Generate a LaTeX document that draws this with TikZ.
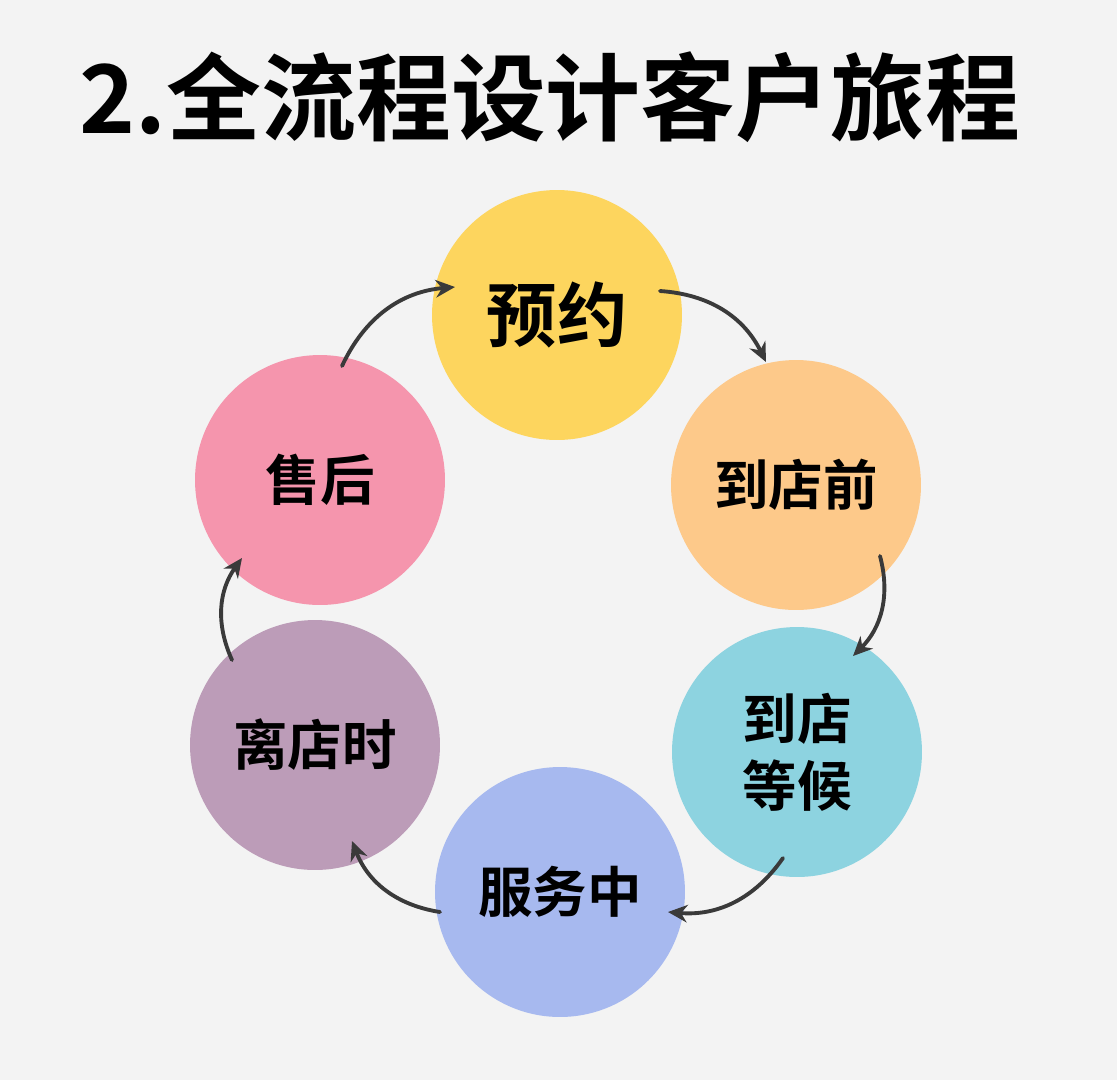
\documentclass[tikz,border=0pt]{standalone}
\usepackage{fontspec}
\newfontfamily\cjk{Noto Sans CJK SC}[BoldFont={Noto Sans CJK SC Bold}]
\usetikzlibrary{arrows.meta}
\definecolor{bg}{HTML}{F3F3F3}
\definecolor{cy}{HTML}{FDD55E}
\definecolor{co}{HTML}{FDC98A}
\definecolor{cc}{HTML}{8DD3E0}
\definecolor{cb}{HTML}{A7B9EF}
\definecolor{cp}{HTML}{BC9CB8}
\definecolor{ck}{HTML}{F595AD}
\definecolor{ar}{HTML}{3A3A3A}
\begin{document}
\begin{tikzpicture}[x=0.02cm,y=-0.02cm,
  blob/.style={circle,minimum size=5cm,inner sep=0pt,font=\cjk\bfseries\fontsize{31}{38}\selectfont,align=center},
  flow/.style={draw=ar,line width=2.2pt,-{Stealth[length=11pt,width=10pt]},line cap=round}]
\fill[bg] (0,0) rectangle (1117,1080);
\useasboundingbox (0,0) rectangle (1117,1080);
\node[font=\cjk\bfseries\fontsize{54}{60}\selectfont] (title) at (550,97) {2.全流程设计客户旅程};
\node[blob,fill=cy,font=\cjk\bfseries\fontsize{40}{46}\selectfont] (a) at (557,315) {预约};
\node[blob,fill=co] (b) at (796,485) {到店前};
\node[blob,fill=cc] (c) at (797,752) {到店\\等候};
\node[blob,fill=cb] (d) at (560,892) {服务中};
\node[blob,fill=cp] (e) at (315,745) {离店时};
\node[blob,fill=ck] (f) at (320,480) {售后};
\coordinate (p1) at (342,366); \coordinate (q1) at (455,287);
\coordinate (p2) at (660,291); \coordinate (q2) at (766,362);
\coordinate (p3) at (880,556); \coordinate (q3) at (853,656);
\coordinate (p4) at (783,858); \coordinate (q4) at (668,912);
\coordinate (p5) at (440,912); \coordinate (q5) at (352,841);
\coordinate (p6) at (232,660); \coordinate (q6) at (242,558);
\draw[flow] (p1) to[bend left=30] (q1);
\draw[flow] (p2) to[bend left=30] (q2);
\draw[flow] (p3) to[bend left=30] (q3);
\draw[flow] (p4) to[bend left=30] (q4);
\draw[flow] (p5) to[bend left=30] (q5);
\draw[flow] (p6) to[bend left=30] (q6);
\end{tikzpicture}
\end{document}
